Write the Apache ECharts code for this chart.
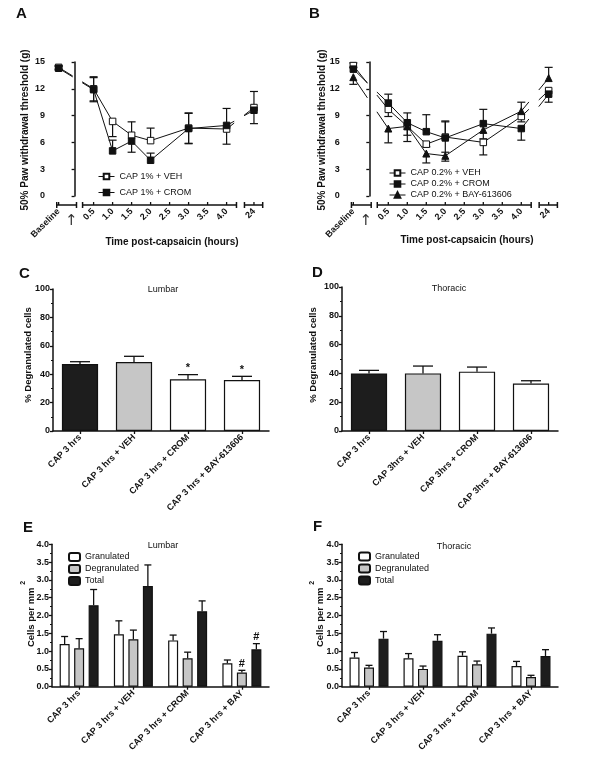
<!DOCTYPE html>
<html><head><meta charset="utf-8">
<script src="https://cdn.jsdelivr.net/npm/echarts@6/dist/echarts.min.js"></script>
<style>html,body{margin:0;padding:0;background:#fff}#c{width:600px;height:774px}</style>
</head><body><div id="c"></div>
<script>
// ---------------- DATA ----------------
// Panels A/B: time points (plotted position on the broken axis) and tick labels
const timeLabels = ['Baseline','0.5','1.0','1.5','2.0','3.0','4.0','24'];
const timePos    = [-0.42, 0.5, 1.0, 1.5, 2.0, 3.0, 4.0, 4.72];
const axisTickLabels = ['Baseline','0.5','1.0','1.5','2.0','2.5','3.0','3.5','4.0','24'];
const axisTickPos    = [-0.42, 0.5, 1.0, 1.5, 2.0, 2.5, 3.0, 3.5, 4.0, 4.72];
const arrowPos = -0.09;

// Panel A
const aVeh    = [14.4, 12.0, 8.35, 6.8, 6.2, 7.6, 7.5, 9.9];
const aVehUp  = [0.2, 1.35, 0, 1.5, 1.4, 1.7, 0, 1.8];
const aVehDn  = [0.2, 1.35, 1.7, 0, 0, 1.7, 1.7, 0];
const aCrom   = [14.3, 11.9, 5.05, 6.15, 4.0, 7.55, 7.9, 9.6];
const aCromUp = [0.2, 1.35, 1.2, 0, 0.8, 1.7, 1.9, 0];
const aCromDn = [0.2, 1.35, 0, 1.25, 0, 1.7, 0, 1.5];

// Panel B
const bVeh    = [14.6, 9.7, 7.8, 5.8, 6.6, 6.0, 8.9, 11.8];
const bVehUp  = [0.3, 0, 0, 0, 1.8, 0, 0, 0];
const bVehDn  = [0, 0.8, 1.7, 0.3, 0, 1.4, 0.6, 0];
const bCrom   = [14.2, 10.4, 8.2, 7.2, 6.5, 8.1, 7.55, 11.4];
const bCromUp = [0.2, 1.0, 1.1, 1.9, 1.8, 1.6, 0, 0];
const bCromDn = [0, 0, 0, 0, 1.6, 0, 1.3, 0.9];
const bBay    = [13.3, 7.55, 7.8, 4.75, 4.5, 7.4, 9.5, 13.2];
const bBayUp  = [0, 0, 0, 0, 0, 0, 1.0, 1.2];
const bBayDn  = [0.8, 1.6, 1.0, 1.05, 0.6, 1.0, 0, 0];

// Panel C / D
const cCats  = ['CAP 3 hrs','CAP 3 hrs + VEH','CAP 3 hrs + CROM','CAP 3 hrs + BAY-613606'];
const cVals  = [47.2, 48.6, 36.4, 35.9];
const cErr   = [1.6, 4.0, 3.3, 2.6];
const cMarks = ['', '', '*', '*'];
const dCats  = ['CAP 3 hrs','CAP 3hrs + VEH','CAP 3hrs + CROM','CAP 3hrs + BAY-613606'];
const dVals  = [40.0, 40.0, 41.2, 33.0];
const dErr   = [2.1, 5.1, 3.2, 1.9];

// Panel E / F
const efCats   = ['CAP 3 hrs','CAP 3 hrs + VEH','CAP 3 hrs + CROM','CAP 3 hrs + BAY'];
const eGran    = [1.20, 1.47, 1.30, 0.66];
const eGranErr = [0.21, 0.38, 0.15, 0.09];
const eDegr    = [1.08, 1.33, 0.80, 0.40];
const eDegrErr = [0.27, 0.26, 0.17, 0.06];
const eTot     = [2.29, 2.83, 2.12, 1.05];
const eTotErr  = [0.44, 0.59, 0.29, 0.16];
const eDegrMarks = ['', '', '', '#'];
const eTotMarks  = ['', '', '', '#'];
const fGran    = [0.82, 0.80, 0.87, 0.58];
const fGranErr = [0.14, 0.13, 0.11, 0.13];
const fDegr    = [0.54, 0.50, 0.63, 0.27];
const fDegrErr = [0.06, 0.08, 0.09, 0.05];
const fTot     = [1.35, 1.29, 1.49, 0.86];
const fTotErr  = [0.20, 0.17, 0.16, 0.18];

// ---------------- STYLE ----------------
const FONT = "'Liberation Sans', Arial, sans-serif";
const INK = '#111';
const DARK = '#1d1d1d', GREY = '#c6c6c6', WHITE = '#ffffff';
const axisSegments = [[-0.47, 0.05], [0.21, 4.26], [4.47, 4.95]];
const lineGaps = [[-0.05, 0.2], [4.2, 4.46]];

const chart = echarts.init(document.getElementById('c'), null, {renderer: 'canvas'});

function labelFor(v) {
  let best = 0, bd = 1e9;
  axisTickPos.forEach((p, i) => { const d = Math.abs(p - v); if (d < bd) { bd = d; best = i; } });
  return axisTickLabels[best];
}

function lineStyleL(w) { return {stroke: INK, lineWidth: w || 1}; }

function axisSegSeries(xi, yi) {
  return {
    type: 'custom', xAxisIndex: xi, yAxisIndex: yi, silent: true, z: 3, clip: false,
    data: axisSegments.map(s => [s[0], s[1], 0]), encode: {x: [0, 1], y: 2},
    renderItem(params, api) {
      const s = api.value(0), e = api.value(1);
      const a = api.coord([s, 0]), b = api.coord([e, 0]);
      const y = a[1] + 9;
      const ch = [
        {type: 'line', shape: {x1: a[0], y1: y, x2: b[0], y2: y}, style: lineStyleL(1.5)},
        {type: 'line', shape: {x1: a[0], y1: y - 3, x2: a[0], y2: y + 3}, style: lineStyleL(1.5)},
        {type: 'line', shape: {x1: b[0], y1: y - 3, x2: b[0], y2: y + 3}, style: lineStyleL(1.5)}
      ];
      axisTickPos.forEach(t => {
        if (t > s + 0.02 && t < e - 0.02) {
          const p = api.coord([t, 0]);
          ch.push({type: 'line', shape: {x1: p[0], y1: y - 3, x2: p[0], y2: y}, style: lineStyleL(1.3)});
        }
      });
      return {type: 'group', children: ch};
    }
  };
}

function linkSeries(xi, yi, list) {
  const data = [];
  list.forEach(vals => {
    for (let i = 0; i < vals.length - 1; i++) data.push([timePos[i], vals[i], timePos[i + 1], vals[i + 1]]);
  });
  return {
    type: 'custom', xAxisIndex: xi, yAxisIndex: yi, silent: true, z: 4,
    data, encode: {x: [0, 2], y: [1, 3]},
    renderItem(params, api) {
      const x1 = api.value(0), y1 = api.value(1), x2 = api.value(2), y2 = api.value(3);
      const p1 = api.coord([x1, y1]), p2 = api.coord([x2, y2]);
      let gap = null;
      lineGaps.forEach(g => { if (x1 <= g[0] && x2 >= g[1]) gap = g; });
      const st = lineStyleL(1);
      if (!gap) return {type: 'line', shape: {x1: p1[0], y1: p1[1], x2: p2[0], y2: p2[1]}, style: st};
      const ya = y1 + (y2 - y1) * (gap[0] - x1) / (x2 - x1);
      const yb = y1 + (y2 - y1) * (gap[1] - x1) / (x2 - x1);
      const ga = api.coord([gap[0], ya]), gb = api.coord([gap[1], yb]);
      return {type: 'group', children: [
        {type: 'line', shape: {x1: p1[0], y1: p1[1], x2: ga[0], y2: ga[1]}, style: st},
        {type: 'line', shape: {x1: gb[0], y1: gb[1], x2: p2[0], y2: p2[1]}, style: st}
      ]};
    }
  };
}

function pointErrSeries(xi, yi, groups) {
  const data = [];
  groups.forEach(g => g[0].forEach((v, i) => data.push([timePos[i], v, g[1][i], g[2][i]])));
  return {
    type: 'custom', xAxisIndex: xi, yAxisIndex: yi, silent: true, z: 5,
    data, encode: {x: 0, y: 1},
    renderItem(params, api) {
      const x = api.value(0), y = api.value(1), up = api.value(2), dn = api.value(3);
      const c = api.coord([x, y]);
      const ch = [];
      const w = 4;
      if (up > 0) {
        const h = api.coord([x, y + up]);
        ch.push({type: 'line', shape: {x1: c[0], y1: c[1], x2: c[0], y2: h[1]}, style: lineStyleL(1.2)});
        ch.push({type: 'line', shape: {x1: c[0] - w, y1: h[1], x2: c[0] + w, y2: h[1]}, style: lineStyleL(1.2)});
      }
      if (dn > 0) {
        const l = api.coord([x, y - dn]);
        ch.push({type: 'line', shape: {x1: c[0], y1: c[1], x2: c[0], y2: l[1]}, style: lineStyleL(1.2)});
        ch.push({type: 'line', shape: {x1: c[0] - w, y1: l[1], x2: c[0] + w, y2: l[1]}, style: lineStyleL(1.2)});
      }
      return {type: 'group', children: ch};
    }
  };
}

function markerSeries(xi, yi, name, vals, symbol, fill, size) {
  return {
    type: 'line', name, xAxisIndex: xi, yAxisIndex: yi, z: 10,
    data: vals.map((v, i) => [timePos[i], v]),
    symbol, symbolSize: size, showSymbol: true,
    lineStyle: {color: INK, width: 1, opacity: 0},
    itemStyle: {color: fill, borderColor: INK, borderWidth: 1, opacity: 1},
    emphasis: {disabled: true}
  };
}

function barErrSeries(xi, yi, vals, errs, marks, offset, capHalf) {
  return {
    type: 'custom', xAxisIndex: xi, yAxisIndex: yi, silent: true, z: 6,
    data: vals.map((v, i) => [i, v, errs[i]]), encode: {x: 0, y: 1},
    renderItem(params, api) {
      const i = api.value(0), v = api.value(1), e = api.value(2);
      const b = api.coord([i, v]), t = api.coord([i, v + e]);
      const x = b[0] + offset;
      const ch = [
        {type: 'line', shape: {x1: x, y1: b[1], x2: x, y2: t[1]}, style: lineStyleL(1.3)},
        {type: 'line', shape: {x1: x - capHalf, y1: t[1], x2: x + capHalf, y2: t[1]}, style: lineStyleL(1.3)}
      ];
      const m = marks ? marks[params.dataIndex] : '';
      if (m) ch.push({type: 'text', x: x, y: t[1] - 1,
        style: {text: m, font: 'bold 11px ' + FONT, fill: INK, align: 'center', verticalAlign: 'bottom', textAlign: 'center', textVerticalAlign: 'bottom'}});
      return {type: 'group', children: ch};
    }
  };
}

function barSeries(xi, yi, name, vals, color, extra) {
  return Object.assign({
    type: 'bar', name, xAxisIndex: xi, yAxisIndex: yi, z: 4,
    data: vals, itemStyle: {color, borderColor: INK, borderWidth: 1.2},
    emphasis: {disabled: true}
  }, extra || {});
}

function yAxisCfg(grid, min, max, interval, fmt, minor) {
  return {
    type: 'value', gridIndex: grid, min, max, interval,
    axisLine: {show: true, lineStyle: {color: INK, width: 1.5}},
    axisTick: {show: true, length: 3, lineStyle: {color: INK, width: 1.3}},
    minorTick: {show: !!minor, splitNumber: 2, length: 2, lineStyle: {color: INK, width: 1}},
    splitLine: {show: false},
    axisLabel: {fontSize: 9, fontWeight: 'bold', color: INK, margin: 3, fontFamily: FONT, formatter: fmt}
  };
}

function timeAxis(grid) {
  return {
    type: 'value', gridIndex: grid, min: -0.7, max: 5.0, position: 'bottom', offset: 9,
    axisLine: {show: false}, axisTick: {show: false}, splitLine: {show: false},
    axisLabel: {customValues: axisTickPos, formatter: v => labelFor(v), rotate: 45,
      fontSize: 9, fontWeight: 'bold', color: INK, margin: 5, fontFamily: FONT}
  };
}
function arrowAxis(grid) {
  return {
    type: 'value', gridIndex: grid, min: -0.7, max: 5.0, position: 'bottom', offset: 9,
    axisLine: {show: false}, axisTick: {show: false}, splitLine: {show: false},
    axisLabel: {customValues: [arrowPos], formatter: () => '\u2191', rotate: 0,
      fontSize: 15, color: '#333', margin: 9, fontFamily: 'DejaVu Sans'}
  };
}
function catAxis(grid, cats) {
  return {
    type: 'category', gridIndex: grid, data: cats,
    axisLine: {show: true, lineStyle: {color: INK, width: 1.5}},
    axisTick: {show: true, alignWithLabel: true, length: 3, lineStyle: {color: INK, width: 1.3}},
    axisLabel: {interval: 0, rotate: 45, fontSize: 9, fontWeight: 'bold', color: INK, margin: 5, fontFamily: FONT}
  };
}

function txt(x, y, text, font, opts) {
  return Object.assign({type: 'text', x, y, silent: true,
    style: {text, font, fill: INK, align: 'center', verticalAlign: 'middle', textAlign: 'center', textVerticalAlign: 'middle'}}, opts || {});
}
function vtxt(x, y, text, font) {
  return txt(x, y, text, font, {rotation: Math.PI / 2});
}
function letter(x, y, t) {
  return {type: 'text', x, y, silent: true,
    style: {text: t, font: 'bold 15px ' + FONT, fill: INK, align: 'left', verticalAlign: 'middle', textAlign: 'left', textVerticalAlign: 'middle'}};
}
function cellsTitle(x, y) {
  return {type: 'text', x, y, rotation: Math.PI / 2, silent: true,
    style: {text: '{a|Cells per mm }{b|2}', fill: INK, align: 'center', verticalAlign: 'middle', textAlign: 'center', textVerticalAlign: 'middle',
      rich: {a: {font: 'bold 9.5px ' + FONT, fill: INK, lineHeight: 16, verticalAlign: 'bottom'},
             b: {font: 'bold 7px ' + FONT, fill: INK, lineHeight: 16, verticalAlign: 'top'}}}};
}

const TITLE = 'bold 10px ' + FONT;
const SMALL = '9px ' + FONT;

const option = {
  animation: false,
  backgroundColor: '#fff',
  textStyle: {fontFamily: FONT},
  grid: [
    {left: 48, top: 62, width: 216.6, height: 134},
    {left: 342.7, top: 62, width: 216.6, height: 134},
    {left: 53, top: 289, width: 216, height: 142},
    {left: 342, top: 287, width: 216, height: 144},
    {left: 52, top: 544.3, width: 217, height: 142.4},
    {left: 342, top: 544.3, width: 216, height: 142.4}
  ],
  xAxis: [
    timeAxis(0), arrowAxis(0), timeAxis(1), arrowAxis(1),
    catAxis(2, cCats), catAxis(3, dCats), catAxis(4, efCats), catAxis(5, efCats)
  ],
  yAxis: [
    yAxisCfg(0, 0, 15, 3),
    yAxisCfg(1, 0, 15, 3),
    yAxisCfg(2, 0, 100, 20, null, true),
    yAxisCfg(3, 0, 100, 20, null, true),
    yAxisCfg(4, 0, 4, 0.5, v => v.toFixed(1), true),
    yAxisCfg(5, 0, 4, 0.5, v => v.toFixed(1), true)
  ],
  legend: [
    {data: ['CAP 1% + VEH', 'CAP 1% + CROM'], orient: 'vertical', left: 98, top: 172, padding: 0,
     itemGap: 7, itemWidth: 16, itemHeight: 7, selectedMode: false,
     lineStyle: {opacity: 1, width: 1, color: INK},
     textStyle: {fontSize: 9, color: INK, fontFamily: FONT}},
    {data: ['CAP 0.2% + VEH', 'CAP 0.2% + CROM', 'CAP 0.2% + BAY-613606'], orient: 'vertical', left: 389, top: 168.5, padding: 0,
     itemGap: 2, itemWidth: 16, itemHeight: 7, selectedMode: false,
     lineStyle: {opacity: 1, width: 1, color: INK},
     textStyle: {fontSize: 9, color: INK, fontFamily: FONT}},
    {data: ['Granulated', 'Degranulated', 'Total'], orient: 'vertical', left: 68, top: 552, padding: 0,
     itemGap: 2, itemWidth: 11, itemHeight: 8, selectedMode: false,
     textStyle: {fontSize: 9, color: INK, fontFamily: FONT}},
    {data: ['Granulated', 'Degranulated', 'Total'], orient: 'vertical', left: 358, top: 551.5, padding: 0,
     itemGap: 2, itemWidth: 11, itemHeight: 8, selectedMode: false,
     textStyle: {fontSize: 9, color: INK, fontFamily: FONT}}
  ],
  graphic: [
    letter(16, 14, 'A'),
    letter(309, 14, 'B'),
    letter(19, 274, 'C'),
    letter(312, 273, 'D'),
    letter(23, 528, 'E'),
    letter(313, 527, 'F'),
    vtxt(25, 130, '50% Paw withdrawal threshold (g)', TITLE),
    vtxt(322, 130, '50% Paw withdrawal threshold (g)', TITLE),
    txt(172, 242, 'Time post-capsaicin (hours)', TITLE),
    txt(467, 240, 'Time post-capsaicin (hours)', TITLE),
    vtxt(28, 355, '% Degranulated cells', 'bold 9.5px ' + FONT),
    vtxt(313, 355, '% Degranulated cells', 'bold 9.5px ' + FONT),
    cellsTitle(28, 614),
    cellsTitle(317, 614),
    txt(163, 290, 'Lumbar', SMALL),
    txt(449, 289, 'Thoracic', SMALL),
    txt(163, 546, 'Lumbar', SMALL),
    txt(454, 547, 'Thoracic', SMALL)
  ],
  series: [
    // Panel A
    axisSegSeries(0, 0),
    linkSeries(0, 0, [aVeh, aCrom]),
    pointErrSeries(0, 0, [[aVeh, aVehUp, aVehDn], [aCrom, aCromUp, aCromDn]]),
    markerSeries(0, 0, 'CAP 1% + VEH', aVeh, 'rect', WHITE, 6.5),
    markerSeries(0, 0, 'CAP 1% + CROM', aCrom, 'rect', INK, 6.5),
    // Panel B
    axisSegSeries(2, 1),
    linkSeries(2, 1, [bVeh, bCrom, bBay]),
    pointErrSeries(2, 1, [[bVeh, bVehUp, bVehDn], [bCrom, bCromUp, bCromDn], [bBay, bBayUp, bBayDn]]),
    markerSeries(2, 1, 'CAP 0.2% + VEH', bVeh, 'rect', WHITE, 6.5),
    markerSeries(2, 1, 'CAP 0.2% + CROM', bCrom, 'rect', INK, 6.5),
    markerSeries(2, 1, 'CAP 0.2% + BAY-613606', bBay, 'triangle', INK, 7),
    // Panel C
    barSeries(4, 2, 'C', cVals.map((v, i) => ({value: v, itemStyle: {color: [DARK, GREY, WHITE, WHITE][i]}})), DARK, {barCategoryGap: '33%'}),
    barErrSeries(4, 2, cVals, cErr, cMarks, 0, 10),
    // Panel D
    barSeries(5, 3, 'D', dVals.map((v, i) => ({value: v, itemStyle: {color: [DARK, GREY, WHITE, WHITE][i]}})), DARK, {barCategoryGap: '33%'}),
    barErrSeries(5, 3, dVals, dErr, null, 0, 10),
    // Panel E
    barSeries(6, 4, 'Granulated', eGran, WHITE, {barWidth: 10, barGap: '45%'}),
    barSeries(6, 4, 'Degranulated', eDegr, GREY, {barWidth: 10, barGap: '45%'}),
    barSeries(6, 4, 'Total', eTot, DARK, {barWidth: 10, barGap: '45%'}),
    barErrSeries(6, 4, eGran, eGranErr, null, -14.5, 3.5),
    barErrSeries(6, 4, eDegr, eDegrErr, eDegrMarks, 0, 3.5),
    barErrSeries(6, 4, eTot, eTotErr, eTotMarks, 14.5, 3.5),
    // Panel F
    barSeries(7, 5, 'Granulated', fGran, WHITE, {barWidth: 10, barGap: '45%'}),
    barSeries(7, 5, 'Degranulated', fDegr, GREY, {barWidth: 10, barGap: '45%'}),
    barSeries(7, 5, 'Total', fTot, DARK, {barWidth: 10, barGap: '45%'}),
    barErrSeries(7, 5, fGran, fGranErr, null, -14.5, 3.5),
    barErrSeries(7, 5, fDegr, fDegrErr, null, 0, 3.5),
    barErrSeries(7, 5, fTot, fTotErr, null, 14.5, 3.5)
  ]
};
chart.setOption(option);
</script>
</body></html>
